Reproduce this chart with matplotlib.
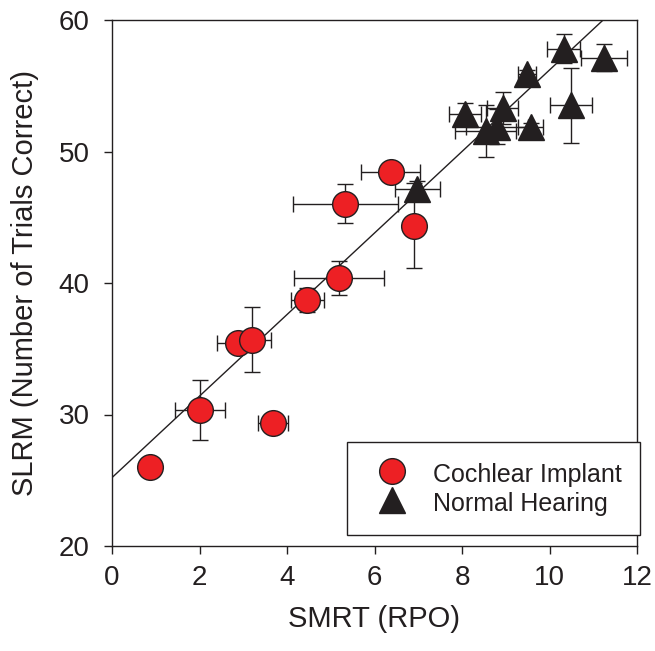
import matplotlib
matplotlib.use("Agg")
import matplotlib.pyplot as plt
import numpy as np

plt.rcParams['font.family'] = ['Liberation Sans', 'DejaVu Sans']

# Cochlear implant listeners
ci_x = [0.87, 2.01, 2.89, 3.19, 3.68, 4.46, 5.19, 5.33, 6.37, 6.91]
ci_y = [26.0, 30.35, 35.4, 35.7, 29.33, 38.7, 40.38, 46.03, 48.43, 44.37]
ci_xerr = [0.0, 0.57, 0.48, 0.45, 0.34, 0.38, 1.02, 1.2, 0.68, 0.0]
ci_yerr = [0.0, 2.3, 0.0, 2.5, 0.0, 0.9, 1.3, 1.5, 0.0, 3.2]

# Normal hearing listeners
nh_x = [6.98, 8.07, 8.54, 8.80, 8.93, 9.49, 9.57, 10.32, 10.50, 11.24]
nh_y = [47.17, 52.86, 51.55, 51.9, 53.3, 55.86, 51.84, 57.8, 53.53, 57.14]
nh_xerr = [0.51, 0.37, 0.69, 0.70, 0.35, 0.2, 0.28, 0.38, 0.48, 0.53]
nh_yerr = [0.6, 0.8, 2.0, 1.3, 1.2, 0.3, 0.3, 1.1, 2.85, 1.0]

# regression line
fit_intercept = 25.2
fit_slope = 3.10

fig = plt.figure(figsize=(6.55, 6.51), dpi=100)
ax = fig.add_axes([112/655, 1-546/651, 525/655, 526/651])

red = '#ED2024'
dark = '#231F20'

line_x = np.array([0, 12])
ax.plot(line_x, fit_intercept + fit_slope*line_x, color=dark, lw=1.0, zorder=2)

ax.errorbar(nh_x, nh_y, xerr=nh_xerr, yerr=nh_yerr, fmt='none', ecolor=dark,
            elinewidth=1.0, capsize=6, capthick=1.0, zorder=3)
ax.errorbar(ci_x, ci_y, xerr=ci_xerr, yerr=ci_yerr, fmt='none', ecolor=dark,
            elinewidth=1.0, capsize=6, capthick=1.0, zorder=3)

ax.plot(ci_x, ci_y, 'o', ms=18.5, mfc=red, mec=dark, mew=1.0, ls='none',
        zorder=4, label='Cochlear Implant')
ax.plot(nh_x, nh_y, '^', ms=19, mfc=dark, mec=dark, mew=1.0, ls='none',
        zorder=5, label='Normal Hearing')

ax.set_xlim(0, 12)
ax.set_ylim(20, 60)
ax.set_xticks([0, 2, 4, 6, 8, 10, 12])
ax.set_yticks([20, 30, 40, 50, 60])
ax.tick_params(direction='out', length=6, width=1.0, labelsize=20, color=dark,
               labelcolor=dark)
ax.tick_params(axis='x', pad=8)
ax.tick_params(axis='y', pad=10)
for s in ax.spines.values():
    s.set_linewidth(1.0)
    s.set_color(dark)

ax.set_xlabel('SMRT (RPO)', fontsize=21, color=dark, labelpad=10)
ax.set_ylabel('SLRM (Number of Trials Correct)', fontsize=21, color=dark, labelpad=14)

leg = ax.legend(loc='lower right', bbox_to_anchor=(1.006, 0.021), fontsize=18,
                frameon=True, fancybox=False, edgecolor=dark, framealpha=1,
                borderpad=0.72, handlelength=2.1, handleheight=1.35,
                handletextpad=0.62, labelspacing=0.05, borderaxespad=0)
leg.get_frame().set_linewidth(1.0)
for t in leg.get_texts():
    t.set_color(dark)

fig.savefig('out.png', dpi=100)
